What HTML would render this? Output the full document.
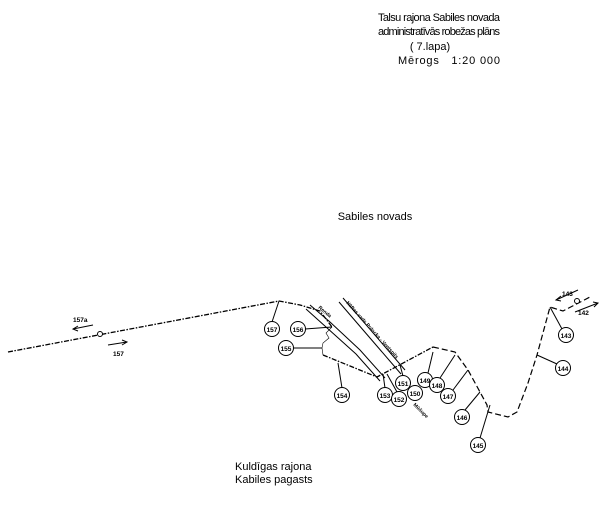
<!DOCTYPE html>
<html><head><style>
html,body{margin:0;padding:0;background:#fff;}
svg{display:block;}
text{font-family:"Liberation Sans",sans-serif;fill:#000;}
</style></head><body>
<svg width="600" height="505" viewBox="0 0 600 505" xmlns="http://www.w3.org/2000/svg">
<g font-size="11" text-anchor="middle">
<text x="439" y="21" textLength="122">Talsu rajona Sabiles novada</text>
<text x="439" y="35" textLength="122">administratīvās robežas plāns</text>
<text x="430" y="50">( 7.lapa)</text>
<text x="449" y="64" textLength="102" xml:space="preserve">Mērogs   1:20 000</text>
<text x="375" y="220">Sabiles novads</text>
</g>
<g font-size="11">
<text x="235" y="470">Kuldīgas rajona</text>
<text x="235" y="483">Kabiles pagasts</text>
</g>
<g fill="none" stroke="#000" stroke-width="1.3" stroke-dasharray="5,1.5,1.5,1.5">
<polyline points="8,352 279,301 300,305 320,311 332,327"/>
<polyline points="323,355 377,377 433,347"/>
</g>
<g fill="none" stroke="#000" stroke-width="1">
<polyline points="332,327 326,333 329,338 323,343 322,348 323,355" stroke-width="0.6"/>
<polyline points="433,347 455,352 468,370 480,392 487,405 488,412 508,417 517,412 528,383 537,355 550,307 563,311 590,297" stroke-dasharray="6,3" stroke-width="1.2"/>
<polyline points="310,305 330,322 360,350 385,378"/>
<polyline points="306,309 326,327 356,354 380,381"/>
<polyline points="343,298 405,370"/>
<polyline points="339,302 401,374"/>
<line x1="272" y1="322" x2="279" y2="301"/>
<line x1="305" y1="329" x2="332" y2="327"/>
<line x1="293" y1="348" x2="322" y2="348"/>
<line x1="342" y1="388" x2="338" y2="363"/>
<line x1="385" y1="388" x2="383" y2="374"/>
<line x1="397" y1="392" x2="387" y2="374"/>
<line x1="403" y1="376" x2="400" y2="365"/>
<line x1="428" y1="373" x2="433" y2="352"/>
<line x1="440" y1="378" x2="455" y2="355"/>
<line x1="453" y1="390" x2="468" y2="370"/>
<line x1="465" y1="410" x2="480" y2="392"/>
<line x1="480" y1="438" x2="490" y2="405"/>
<line x1="562" y1="329" x2="550" y2="307"/>
<line x1="557" y1="364" x2="537" y2="355"/>
<line x1="73" y1="329" x2="93" y2="325"/><polyline points="78,326 73,329 78,331"/>
<line x1="108" y1="345" x2="127" y2="342"/><polyline points="122,340 127,342 122,345"/>
<line x1="556" y1="300" x2="578" y2="290"/><polyline points="561,296 556,300 561,301"/>
<line x1="575" y1="312" x2="598" y2="303"/><polyline points="593,302 598,303 594,307"/>
</g>
<circle cx="100" cy="334" r="2.5" fill="#fff" stroke="#000"/>
<circle cx="577" cy="301" r="2.5" fill="#fff" stroke="#000"/>
<g font-size="6.5" font-weight="bold">
<text x="73" y="322">157a</text><text x="113" y="356">157</text>
<text x="562" y="296">143</text><text x="578" y="315">142</text>
<text transform="translate(318,308) rotate(40)" font-size="5">Renda</text>
<text transform="translate(346,303) rotate(48)" font-size="5">Nāftas vads Polocka - Ventspils</text>
<text transform="translate(413,405) rotate(45)" font-size="5">Mūšupe</text>
</g>
<g fill="#fff" stroke="#000" stroke-width="1">
<circle cx="272" cy="329" r="7.5"/><circle cx="298" cy="329" r="7.5"/>
<circle cx="286" cy="348" r="7.5"/><circle cx="342" cy="395" r="7.5"/>
<circle cx="385" cy="395" r="7.5"/><circle cx="399" cy="399" r="7.5"/>
<circle cx="403" cy="383" r="7.5"/><circle cx="415" cy="393" r="7.5"/>
<circle cx="425" cy="380" r="7.5"/><circle cx="437" cy="385" r="7.5"/>
<circle cx="448" cy="396" r="7.5"/><circle cx="462" cy="417" r="7.5"/>
<circle cx="478" cy="445" r="7.5"/><circle cx="566" cy="335" r="7.5"/>
<circle cx="563" cy="368" r="7.5"/>
</g>
<g font-size="6.5" font-weight="bold" text-anchor="middle">
<text x="272" y="332">157</text><text x="298" y="332">156</text>
<text x="286" y="351">155</text><text x="342" y="398">154</text>
<text x="385" y="398">153</text><text x="399" y="402">152</text>
<text x="403" y="386">151</text><text x="415" y="396">150</text>
<text x="425" y="383">149</text><text x="437" y="388">148</text>
<text x="448" y="399">147</text><text x="462" y="420">146</text>
<text x="478" y="448">145</text><text x="566" y="338">143</text>
<text x="563" y="371">144</text>
</g>
</svg>
</body></html>
